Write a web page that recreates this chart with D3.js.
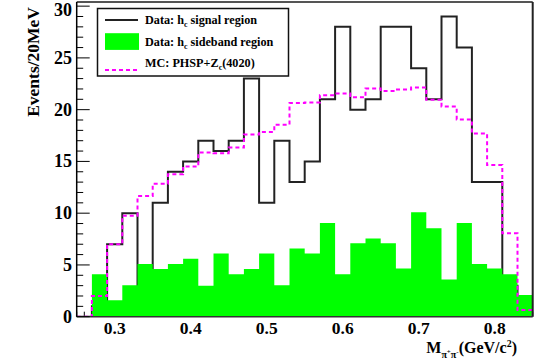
<!DOCTYPE html>
<html><head><meta charset="utf-8">
<script src="https://cdn.jsdelivr.net/npm/d3@7"></script>
<style>
body{margin:0;background:#fff}
svg{display:block}
text{font-family:"Liberation Serif","Times New Roman",serif;font-weight:bold;fill:#000}
</style>
</head><body>
<svg id="c" width="547" height="362"></svg>
<script>
// ---- data ----
const binEdges = [0.25,0.27,0.29,0.31,0.33,0.35,0.37,0.39,0.41,0.43,0.45,0.47,0.49,0.51,0.53,0.55,
                  0.57,0.59,0.61,0.63,0.65,0.67,0.69,0.71,0.73,0.75,0.77,0.79,0.81,0.83,0.85];
const signal   = [0,1,7,10,3,11,14,15,17,16,17,23,11,17,13,15,21,28,20,21,28,28,24,21,29,26,13,13,3,1];
const sideband = [0,4.1,1.6,3.05,5.1,4.6,5.1,5.6,3.0,6.1,4.1,4.6,6.1,3.05,6.6,6.1,9.05,4.1,7.1,7.55,7.1,4.65,10.1,8.55,3.6,9.05,5.1,4.65,4.1,2.1];
const mcPhsp   = [0,2.0,7.0,9.75,11.65,12.85,13.75,14.5,15.85,15.8,16.35,17.6,17.85,18.55,20.65,20.7,
                  21.4,21.55,21.2,22.05,21.8,21.95,22.15,20.95,20.3,19.05,17.7,14.65,8.05,0.65];
const xTickLabels = [0.3,0.4,0.5,0.6,0.7,0.8];
const yTickLabels = [0,5,10,15,20,25,30];
const legendLabels = [
  {pre:"Data: h", sub:"c", post:" signal region", kind:"line"},
  {pre:"Data: h", sub:"c", post:" sideband region", kind:"fill"},
  {pre:"MC: PHSP+Z", sub:"c", post:"(4020)", kind:"dash"}
];

// ---- layout ----
const L = 76.7, R = 532.7, T = 2, B = 316.7;
const svg = d3.select("#c");
const x = d3.scaleLinear().domain([0.25,0.85]).range([L,R]);
const y = d3.scaleLinear().domain([0,30.4]).range([B,T]);

svg.append("defs").append("clipPath").attr("id","plot")
  .append("rect").attr("x",L).attr("y",T).attr("width",R-L).attr("height",B-T);

// x-axis minor/major ticks (under the histograms, as in the original)
const gx = svg.append("g");
x.ticks(60).forEach(t=>{
  const major = Math.abs(t*10 - Math.round(t*10))<1e-6;
  gx.append("line").attr("x1",x(t)).attr("x2",x(t)).attr("y1",B).attr("y2",B-(major?9:5))
    .attr("stroke","#000").attr("stroke-width",1);
});

function stepPoints(vals){
  const p=[[binEdges[0],0]];
  vals.forEach((v,i)=>{p.push([binEdges[i],v]);p.push([binEdges[i+1],v]);});
  p.push([binEdges[binEdges.length-1],0]);
  return p;
}
const line = d3.line().x(d=>x(d[0])).y(d=>y(d[1]));
const area = d3.area().x(d=>x(d[0])).y0(y(0)).y1(d=>y(d[1]));

const plot = svg.append("g").attr("clip-path","url(#plot)");
// signal (black)
plot.append("path").attr("d",line(stepPoints(signal)))
  .attr("fill","none").attr("stroke","#222").attr("stroke-width",2);
// sideband (green fill)
const sbPts=[];
sideband.forEach((v,i)=>{sbPts.push([binEdges[i],v]);sbPts.push([binEdges[i+1],v]);});
plot.append("path").attr("d",area(sbPts)).attr("fill","#00ff00").attr("stroke","none");
// MC (magenta dashed)
plot.append("path").attr("d",line(stepPoints(mcPhsp)))
  .attr("fill","none").attr("stroke","#ff00ff").attr("stroke-width",2).attr("stroke-dasharray","4,3");

// frame
svg.append("line").attr("x1",L).attr("x2",R).attr("y1",T).attr("y2",T).attr("stroke","#555").attr("stroke-width",2);
svg.append("line").attr("x1",R).attr("x2",R).attr("y1",T).attr("y2",B).attr("stroke","#222").attr("stroke-width",2);
svg.append("line").attr("x1",L).attr("x2",R).attr("y1",B).attr("y2",B).attr("stroke","#333").attr("stroke-width",1.5);
svg.append("line").attr("x1",L).attr("x2",L).attr("y1",T).attr("y2",B).attr("stroke","#000").attr("stroke-width",1.5);

// y ticks
const gy = svg.append("g");
d3.range(0,31).forEach(t=>{
  const major = t%5===0;
  gy.append("line").attr("x1",L).attr("x2",L+(major?13:6.5)).attr("y1",y(t)).attr("y2",y(t))
    .attr("stroke","#000").attr("stroke-width",1);
});
yTickLabels.forEach(t=>{
  gy.append("text").attr("x",72).attr("y",Math.max(y(t)+6,16.3)).attr("text-anchor","end")
    .attr("font-size",18).text(t);
});
// x tick labels
xTickLabels.forEach(t=>{
  gx.append("text").attr("x",x(t)).attr("y",334).attr("text-anchor","middle")
    .attr("font-size",17.5).text(d3.format(".1f")(t));
});

// axis titles
svg.append("text").attr("transform","translate(39,7) rotate(-90)").attr("text-anchor","end")
  .attr("font-size",17.5).text("Events/20MeV");
const xt = svg.append("text").attr("x",517).attr("y",353).attr("text-anchor","end").attr("font-size",16);
xt.append("tspan").text("M");
xt.append("tspan").attr("font-size",10).attr("dy",5).text("π");
xt.append("tspan").attr("font-size",7).attr("dy",-4).text("+");
xt.append("tspan").attr("font-size",10).attr("dy",4).text("π");
xt.append("tspan").attr("font-size",7).attr("dy",-4).text("-");
xt.append("tspan").attr("font-size",16).attr("dy",-1).text("(GeV/c");
xt.append("tspan").attr("font-size",10).attr("dy",-6).text("2");
xt.append("tspan").attr("font-size",16).attr("dy",6).text(")");

// legend
const lg = svg.append("g");
lg.append("rect").attr("x",97.5).attr("y",8.5).attr("width",191).attr("height",67.5)
  .attr("fill","#fff").attr("stroke","#111").attr("stroke-width",1.5);
const rowsY = [20, 41.5, 63];
legendLabels.forEach((d,i)=>{
  const cy = rowsY[i];
  if(d.kind==="line"){
    lg.append("line").attr("x1",105).attr("x2",138).attr("y1",cy).attr("y2",cy).attr("stroke","#222").attr("stroke-width",2);
  } else if(d.kind==="fill"){
    lg.append("rect").attr("x",105).attr("y",cy-8.3).attr("width",34).attr("height",16.7).attr("fill","#00ff00");
  } else {
    lg.append("line").attr("x1",105).attr("x2",138).attr("y1",cy+7).attr("y2",cy+7).attr("stroke","#ff00ff").attr("stroke-width",2).attr("stroke-dasharray","4,3");
  }
  const t = lg.append("text").attr("x",145).attr("y",cy+4).attr("font-size",12.2);
  t.append("tspan").text(d.pre);
  t.append("tspan").attr("font-size",8).attr("dy",3).text(d.sub);
  t.append("tspan").attr("dy",-3).text(d.post);
});
</script>
</body></html>
